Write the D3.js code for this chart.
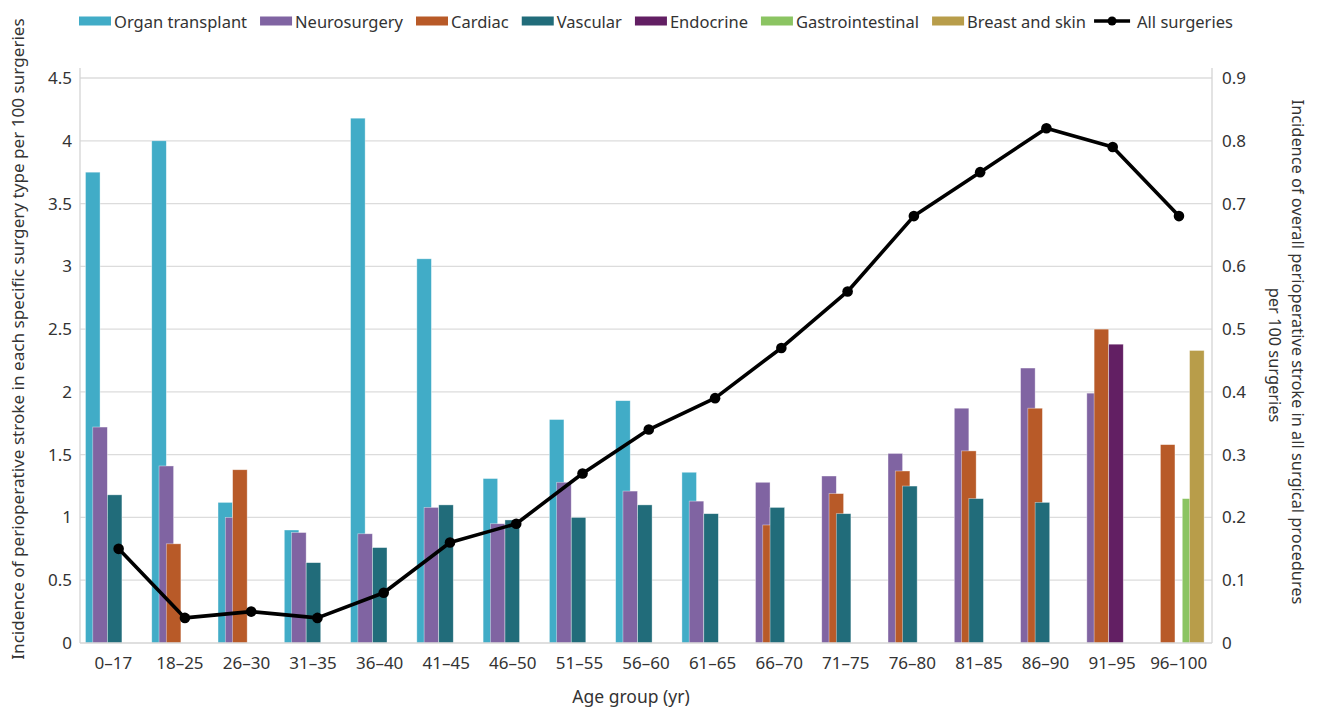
<!DOCTYPE html>
<html><head><meta charset="utf-8">
<script src="https://cdn.jsdelivr.net/npm/d3@7"></script>
<style>
body{margin:0;background:#fff;}
svg{display:block;font-family:"Noto Sans",sans-serif;}
</style></head>
<body><svg id="c" width="1317" height="710"></svg>
<script>
const ages = ["0–17","18–25","26–30","31–35","36–40","41–45","46–50","51–55","56–60","61–65","66–70","71–75","76–80","81–85","86–90","91–95","96–100"];
const seriesNames = ["Organ transplant","Neurosurgery","Cardiac","Vascular","Endocrine","Gastrointestinal","Breast and skin"];
const seriesColors = ["#41acc7","#8064a2","#b85a28","#216c7a","#621f63","#8bc462","#b89d4a"];
const organ     = [3.75,4.00,1.12,0.90,4.18,3.06,1.31,1.78,1.93,1.36,null,null,null,null,null,null,null];
const neuro     = [1.72,1.41,1.00,0.88,0.87,1.08,0.95,1.28,1.21,1.13,1.28,1.33,1.51,1.87,2.19,1.99,null];
const cardiac   = [null,0.79,1.38,null,null,null,null,null,null,null,0.94,1.19,1.37,1.53,1.87,2.50,1.58];
const vascular  = [1.18,null,null,0.64,0.76,1.10,0.98,1.00,1.10,1.03,1.08,1.03,1.25,1.15,1.12,null,null];
const endocrine = [null,null,null,null,null,null,null,null,null,null,null,null,null,null,null,2.38,null];
const gastro    = [null,null,null,null,null,null,null,null,null,null,null,null,null,null,null,null,1.15];
const breast    = [null,null,null,null,null,null,null,null,null,null,null,null,null,null,null,null,2.33];
const allSurg   = [0.15,0.04,0.05,0.04,0.08,0.16,0.19,0.27,0.34,0.39,0.47,0.56,0.68,0.75,0.82,0.79,0.68];
const leftTicks  = [0,0.5,1,1.5,2,2.5,3,3.5,4,4.5];
const rightTicks = [0,0.1,0.2,0.3,0.4,0.5,0.6,0.7,0.8,0.9];
const series = [organ,neuro,cardiac,vascular,endocrine,gastro,breast];

const svg = d3.select("#c");
const L = 80, R = 1212, T = 78, B = 643;
const xAxisScale = d3.scaleBand().domain(ages).range([L, R]);
const xBar = d3.scaleBand().domain(ages).range([81.5, 1208.1]);
const yL = d3.scaleLinear().domain([0,4.5]).range([B,T]);
const yR = d3.scaleLinear().domain([0,0.9]).range([B,T]);

// grid
svg.append("g").selectAll("line").data(leftTicks.filter(d=>d>0)).join("line")
  .attr("x1",L).attr("x2",R).attr("y1",d=>yL(d)).attr("y2",d=>yL(d))
  .attr("stroke","#dcdcdc").attr("stroke-width",1.3);
svg.append("line").attr("x1",L).attr("x2",L).attr("y1",68).attr("y2",B).attr("stroke","#d4d4d4").attr("stroke-width",1.3);
svg.append("line").attr("x1",R).attr("x2",R).attr("y1",68).attr("y2",B).attr("stroke","#d4d4d4").attr("stroke-width",1.3);

// bars
const bw = xBar.bandwidth();
const barW = bw*0.22, slot = barW/2, off = (bw-4*barW)/2;
series.forEach((vals,si)=>{
  svg.append("g").selectAll("rect").data(ages.map((a,i)=>({a,v:vals[i]})).filter(d=>d.v!=null)).join("rect")
    .attr("x",d=>xBar(d.a)+off+si*slot).attr("width",barW)
    .attr("y",d=>yL(d.v)).attr("height",d=>B-yL(d.v))
    .attr("fill",seriesColors[si]).attr("stroke","rgba(255,255,255,0.55)").attr("stroke-width",0.7);
});

svg.append("line").attr("x1",L).attr("x2",R).attr("y1",B).attr("y2",B).attr("stroke","#d4d4d4").attr("stroke-width",1.5);

// line
const lx = a => xBar(a)+bw/2+4;
svg.append("path").datum(ages.map((a,i)=>[lx(a),yR(allSurg[i])]))
  .attr("d",d3.line()).attr("fill","none").attr("stroke","#000").attr("stroke-width",3.6).attr("stroke-linejoin","round");
svg.append("g").selectAll("circle").data(ages.map((a,i)=>({a,v:allSurg[i]}))).join("circle")
  .attr("cx",d=>lx(d.a)).attr("cy",d=>yR(d.v)).attr("r",5.3).attr("fill","#000");

// axes
const axL = svg.append("g").attr("transform",`translate(${L},0)`)
  .call(d3.axisLeft(yL).tickValues(leftTicks).tickFormat(d3.format("~g")).tickSize(0).tickPadding(8));
const axR = svg.append("g").attr("transform",`translate(${R},0)`)
  .call(d3.axisRight(yR).tickValues(rightTicks).tickFormat(d3.format("~g")).tickSize(0).tickPadding(10));
const axB = svg.append("g").attr("transform",`translate(0,${B})`)
  .call(d3.axisBottom(xAxisScale).tickSize(0).tickPadding(14));
[axL,axR,axB].forEach(g=>{
  g.select(".domain").remove();
  g.selectAll("text").attr("font-size",17).attr("fill","#333").attr("font-family","Noto Sans");
});

// titles
function fit(sel,len){const l=sel.node().getComputedTextLength();const fs=+sel.attr("font-size");sel.attr("font-size",fs*len/l);}
const tl = svg.append("text").attr("transform","translate(24,339) rotate(-90)").attr("text-anchor","middle")
  .attr("font-size",17).attr("fill","#333").text("Incidence of perioperative stroke in each specific surgery type per 100 surgeries");
fit(tl,642);
const tr1 = svg.append("text").attr("transform","translate(1292,352) rotate(90)").attr("text-anchor","middle")
  .attr("font-size",17).attr("fill","#333").text("Incidence of overall perioperative stroke in all surgical procedures");
fit(tr1,505);
svg.append("text").attr("transform","translate(1269,355) rotate(90)").attr("text-anchor","middle")
  .attr("font-size",+tr1.attr("font-size")).attr("fill","#333").text("per 100 surgeries");
svg.append("text").attr("x",631).attr("y",703).attr("text-anchor","middle").attr("font-size",17.5).attr("fill","#333").text("Age group (yr)");

// legend
const lg = svg.append("g");
let cx = 79;
const legendItems = seriesNames.map((n,i)=>({n,c:seriesColors[i],line:false})).concat([{n:"All surgeries",c:"#000",line:true}]);
legendItems.forEach((it)=>{
  if(it.line){
    cx -= 5;
    lg.append("line").attr("x1",cx).attr("x2",cx+36).attr("y1",21).attr("y2",21).attr("stroke","#000").attr("stroke-width",3.5);
    lg.append("circle").attr("cx",cx+18).attr("cy",21).attr("r",4.5).attr("fill","#000");
    cx += 43;
  } else {
    lg.append("rect").attr("x",cx).attr("y",16.5).attr("width",32).attr("height",9).attr("fill",it.c);
    cx += 35;
  }
  const t = lg.append("text").attr("x",cx).attr("y",28).attr("font-size",16.5).attr("fill","#333").text(it.n);
  cx += t.node().getComputedTextLength() + 13;
});
</script></body></html>
